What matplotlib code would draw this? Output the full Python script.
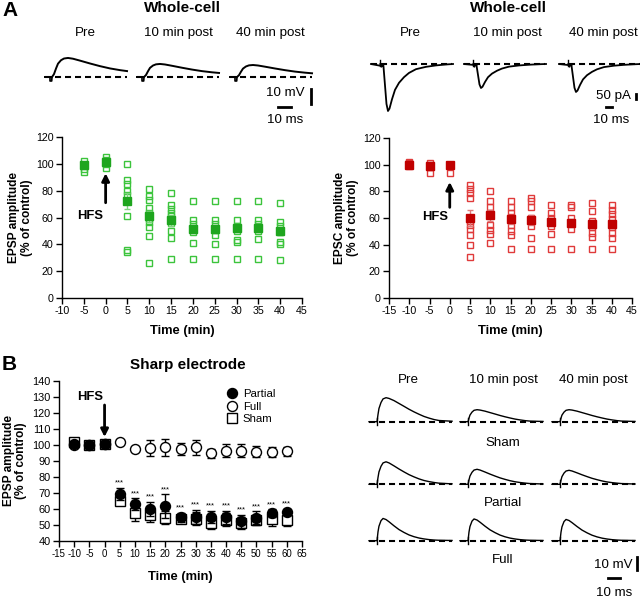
import numpy as np
import matplotlib
matplotlib.use("Agg")
import matplotlib.pyplot as plt
from matplotlib.lines import Line2D

plt.rcParams['font.family'] = ['Liberation Sans', 'DejaVu Sans']
plt.rcParams['axes.unicode_minus'] = False

# ---------------- Panel A left: whole-cell EPSP ----------------
epsp_times = [-5, 0, 5, 10, 15, 20, 25, 30, 35, 40]
epsp_cells = [
    [102, 99, 96, 94],
    [105, 103, 100, 97],
    [100, 88, 85, 80, 77, 61, 36, 34],
    [81, 76, 73, 67, 63, 59, 57, 53, 46, 26],
    [78, 69, 66, 63, 61, 56, 50, 45, 29],
    [72, 58, 55, 52, 49, 41, 29],
    [72, 58, 55, 51, 47, 40, 29],
    [72, 58, 54, 50, 43, 42, 29],
    [72, 58, 55, 50, 44, 29],
    [71, 57, 54, 49, 42, 40, 28],
]
epsp_mean = [99, 101, 72, 61, 58, 51.5, 51.5, 52, 52, 50]
epsp_sem = [1.5, 2, 6, 4, 4, 3, 3, 3, 3, 3]

# ---------------- Panel A right: whole-cell EPSC ----------------
epsc_times = [-10, -5, 0, 5, 10, 15, 20, 25, 30, 35, 40]
epsc_cells = [
    [102, 101, 100, 99],
    [101, 100, 98, 94],
    [100, 99, 94],
    [85, 82, 79, 75, 58, 55, 52, 47, 40, 31],
    [80, 73, 68, 64, 55, 51, 48, 41],
    [73, 68, 64, 61, 55, 50, 47, 37],
    [75, 73, 68, 60, 54, 45, 37],
    [70, 64, 60, 54, 48, 37],
    [70, 68, 60, 52, 37],
    [71, 65, 58, 53, 49, 46, 37],
    [70, 66, 63, 59, 53, 49, 45, 37],
]
epsc_mean = [100, 99, 99.5, 60, 62, 59, 58.5, 57, 56, 55.5, 55.5]
epsc_sem = [1, 1.5, 1, 6, 4, 3.5, 3.5, 3, 3, 3, 3]

# ---------------- Panel B: sharp electrode ----------------
sharp_times = [-10, -5, 0, 5, 10, 15, 20, 25, 30, 35, 40, 45, 50, 55, 60]
partial_mean = [100.5, 100, 100.5, 69.4, 63.1, 60, 61.9, 54.8, 55, 55, 54.8, 52.4, 54.5, 57.3, 58]
partial_sem = [1, 1, 1, 4, 3.5, 4.5, 7.3, 3, 4.5, 4, 4, 4, 4, 2.5, 2]
full_mean = [100, 100, 100.5, 102, 97.5, 97.9, 98.5, 97.5, 98.5, 94.8, 96.4, 96.5, 95.9, 95.5, 96]
full_sem = [1, 1, 1, 1, 1, 5, 5.5, 4, 4.5, 3, 4, 4, 3.5, 3, 3]
sham_mean = [101.9, 100, 100.5, 65, 57.3, 56, 54.5, 54, 54, 51.5, 53.3, 51.2, 53.3, 53.5, 53.3]
sham_sem = [1, 1, 1, 2, 4.5, 4, 4, 2.5, 4, 4, 4, 3.5, 3, 4, 4]
signif_from = 5  # *** on every post-HFS point

# ---------------- Example traces (sample points) ----------------
trace_labels = ["Pre", "10 min post", "40 min post"]
# whole-cell EPSP (ms, normalized)
epsp_t = [0, 5.4, 6.9, 8.5, 10, 12.3, 14.6, 17.7, 21.5, 26.9, 34.6, 42.3, 50, 57.7, 63.1]
epsp_v = [0, 0, 0.15, 0.45, 0.7, 0.88, 0.97, 1.0, 0.96, 0.86, 0.71, 0.57, 0.45, 0.36, 0.31]
epsp_amp_mV = [12.7, 8.7, 8.0]
# whole-cell EPSC (ms, normalized)
epsc_t = [0, 20.8, 23.3, 25.8, 28.3, 30.8, 35, 40, 46.7, 55, 63.3, 75, 91.7, 108.3, 125, 136.7]
epsc_v = [0, -0.05, -0.45, -0.85, -1.0, -0.95, -0.75, -0.55, -0.4, -0.28, -0.19, -0.11, -0.06, -0.03, -0.01, 0]
epsc_amp_pA = [470, 240, 280]
# sharp-electrode EPSPs (ms, normalized)
sharp_t = [0, 6.7, 7.5, 8.3, 10, 11.7, 14.2, 16.7, 20.8, 25, 29.2, 33.3, 37.5, 41.7, 45.8, 50, 54.2, 58.3, 69.2]
sham_v = [0, 0, 0.3, 0.55, 0.8, 0.95, 1.0, 0.97, 0.88, 0.76, 0.64, 0.52, 0.41, 0.31, 0.22, 0.15, 0.09, 0.05, 0.02]
partial_v = [0, 0, 0.3, 0.55, 0.8, 0.95, 1.0, 0.95, 0.82, 0.68, 0.55, 0.43, 0.33, 0.24, 0.17, 0.12, 0.08, 0.05, 0.02]
full_v = [0, 0, 0.4, 0.65, 0.9, 1.0, 0.95, 0.85, 0.67, 0.5, 0.37, 0.26, 0.18, 0.12, 0.08, 0.05, 0.03, 0.02, 0.01]
sham_amp_mV = [19.2, 9.6, 9.6]
partial_amp_mV = [18.0, 12.0, 11.2]
full_amp_mV = [17.8, 17.4, 17.0]
row_labels = ["Sham", "Partial", "Full"]

W, H = 640, 599
fig = plt.figure(figsize=(6.4, 5.99), dpi=100)

TICK_FS = 7.7
YLAB_FS = 8.6
XLAB_FS = 9.3
TXT_FS = 9.6


def style_axes(ax, xlim, ylim, xticks, yticks, ylabel, xfs=TICK_FS, yfs=TICK_FS):
    ax.set_xlim(*xlim)
    ax.set_ylim(*ylim)
    ax.set_xticks(xticks)
    ax.set_yticks(yticks)
    ax.spines['top'].set_visible(False)
    ax.spines['right'].set_visible(False)
    for s in ('left', 'bottom'):
        ax.spines[s].set_linewidth(1.0)
    ax.tick_params(direction='out', length=4, width=1, pad=2)
    ax.tick_params(axis='x', labelsize=xfs)
    ax.tick_params(axis='y', labelsize=yfs)
    ax.set_facecolor('none')
    ax.set_ylabel(ylabel, fontsize=YLAB_FS, fontweight='bold', linespacing=1.1)
    ax.set_xlabel('Time (min)', fontsize=XLAB_FS, fontweight='bold')
    ax.xaxis.label.set_va('top')


def px_axes(x0, x1, y_top, y_bot):
    return fig.add_axes([x0 / W, 1 - y_bot / H, (x1 - x0) / W, (y_bot - y_top) / H])


# ---- A left ----
axL = px_axes(62, 302, 137, 298)
style_axes(axL, (-10, 45), (0, 120), range(-10, 46, 5), range(0, 121, 20),
           'EPSP amplitude\n(% of control)')
g_light, g_dark = '#3cc43c', '#1ea51e'
for t, vals in zip(epsp_times, epsp_cells):
    axL.plot([t] * len(vals), vals, ls='none', marker='s', ms=4.2, mfc='none',
             mec=g_light, mew=1.0, zorder=2)
axL.errorbar(epsp_times, epsp_mean, yerr=epsp_sem, fmt='none', ecolor='#7fd47f',
             elinewidth=1, capsize=2, zorder=3)
axL.plot(epsp_times, epsp_mean, ls='none', marker='s', ms=6, mfc=g_dark, mec=g_dark, zorder=4)
axL.annotate('', xy=(0, 93), xytext=(0, 71),
             arrowprops=dict(arrowstyle='-|>', lw=2, color='black', mutation_scale=11,
                             shrinkA=0, shrinkB=0))
axL.text(-3.6, 61, 'HFS', fontsize=9.4, fontweight='bold', ha='center', va='center')
axL.yaxis.set_label_coords(-0.12, 0.5)
axL.xaxis.set_label_coords(0.5, -0.17)

# ---- A right ----
axR = px_axes(389, 632, 138, 298)
style_axes(axR, (-15, 45), (0, 120), range(-15, 46, 5), range(0, 121, 20),
           'EPSC amplitude\n(% of control)')
r_light, r_dark = '#e03a3a', '#c00000'
for t, vals in zip(epsc_times, epsc_cells):
    axR.plot([t] * len(vals), vals, ls='none', marker='s', ms=4.2, mfc='none',
             mec=r_light, mew=1.0, zorder=2)
axR.errorbar(epsc_times, epsc_mean, yerr=epsc_sem, fmt='none', ecolor='#e07a7a',
             elinewidth=1, capsize=2, zorder=3)
axR.plot(epsc_times, epsc_mean, ls='none', marker='s', ms=6, mfc=r_dark, mec=r_dark, zorder=4)
axR.annotate('', xy=(0, 87), xytext=(0, 68),
             arrowprops=dict(arrowstyle='-|>', lw=2, color='black', mutation_scale=11,
                             shrinkA=0, shrinkB=0))
axR.text(-3.6, 61, 'HFS', fontsize=9.4, fontweight='bold', ha='center', va='center')
axR.yaxis.set_label_coords(-0.125, 0.5)
axR.xaxis.set_label_coords(0.5, -0.17)

# ---- B ----
axB = px_axes(59, 302, 381, 541)
style_axes(axB, (-15, 65), (40, 140), range(-15, 66, 5), range(40, 141, 10),
           'EPSP amplitude\n(% of control)', xfs=6.9, yfs=7.9)
axB.errorbar(sharp_times, sham_mean, yerr=sham_sem, fmt='none', ecolor='black',
             elinewidth=1, capsize=3, capthick=1, zorder=2)
axB.plot(sharp_times, sham_mean, ls='none', marker='s', ms=7, mfc='white', mec='black',
         mew=1, zorder=3)
axB.errorbar(sharp_times, full_mean, yerr=full_sem, fmt='none', ecolor='black',
             elinewidth=1, capsize=3, capthick=1, zorder=4)
axB.plot(sharp_times, full_mean, ls='none', marker='o', ms=7.2, mfc='white', mec='black',
         mew=1, zorder=5)
axB.errorbar(sharp_times, partial_mean, yerr=partial_sem, fmt='none', ecolor='black',
             elinewidth=1, capsize=3, capthick=1, zorder=6)
axB.plot(sharp_times, partial_mean, ls='none', marker='o', ms=7.2, mfc='black', mec='black',
         zorder=7)
for t, m, s in zip(sharp_times, partial_mean, partial_sem):
    if t >= signif_from:
        axB.text(t, m + s + 0.8, '***', fontsize=5.5, ha='center', va='bottom')
axB.annotate('', xy=(0, 105), xytext=(0, 125),
             arrowprops=dict(arrowstyle='-|>', lw=2, color='black', mutation_scale=11,
                             shrinkA=0, shrinkB=0))
axB.text(-4.6, 130, 'HFS', fontsize=9.4, fontweight='bold', ha='center', va='center')
axB.yaxis.set_label_coords(-0.13, 0.5)
axB.xaxis.set_label_coords(0.5, -0.185)
handles = [
    Line2D([], [], ls='none', marker='o', ms=7.2, mfc='black', mec='black'),
    Line2D([], [], ls='none', marker='o', ms=7.2, mfc='white', mec='black'),
    Line2D([], [], ls='none', marker='s', ms=7, mfc='white', mec='black'),
]
axB.legend(handles, ['Partial', 'Full', 'Sham'], loc='upper left', frameon=False,
           bbox_to_anchor=(219 / W, 1 - 383 / H), bbox_transform=fig.transFigure,
           fontsize=8.2, handletextpad=0.4, labelspacing=0.25, borderpad=0, handlelength=1.2)

# ---- overlay in pixel coordinates for texts and example traces ----
ov = fig.add_axes([0, 0, 1, 1])
ov.set_xlim(0, W)
ov.set_ylim(H, 0)
ov.axis('off')
ov.patch.set_visible(False)

ov.text(2, 11, 'A', fontsize=15, fontweight='bold', ha='left', va='center')
ov.text(2, 365, 'B', fontsize=15, fontweight='bold', ha='left', va='center')
ov.text(182, 8, 'Whole-cell', fontsize=11, fontweight='bold', ha='center', va='center')
ov.text(508, 8, 'Whole-cell', fontsize=11, fontweight='bold', ha='center', va='center')
ov.text(188, 365, 'Sharp electrode', fontsize=11, fontweight='bold', ha='center', va='center')

DASH = (0, (2.9, 1.9))


def baseline(x0, y0, length, lw=1.5):
    ov.plot([x0, x0 + length], [y0, y0], color='black', lw=lw, ls=DASH)


# A left traces
for lab, xc in zip(trace_labels, [85, 178, 270]):
    ov.text(xc, 33, lab, fontsize=TXT_FS, ha='center', va='center')
for x0, amp in zip([45, 137, 230], epsp_amp_mV):
    y0 = 77
    baseline(x0, y0, 82)
    ov.plot(x0 + np.array(epsp_t) * 1.3, y0 - np.array(epsp_v) * amp * 1.5,
            color='black', lw=1.4)
    ov.plot([x0, x0 + 5, x0 + 5, x0 + 6.7, x0 + 7], [y0, y0, y0 + 4, y0 + 4, y0],
            color='black', lw=1.2)
ov.plot([311, 311], [89, 104], color='black', lw=2)
ov.plot([278, 291], [107, 107], color='black', lw=2)
ov.text(304, 93, '10 mV', fontsize=TXT_FS, ha='right', va='center')
ov.text(285, 120, '10 ms', fontsize=TXT_FS, ha='center', va='center')

# A right traces
for lab, xc in zip(trace_labels, [410, 507, 603]):
    ov.text(xc, 33, lab, fontsize=TXT_FS, ha='center', va='center')
for x0, amp in zip([371, 464, 559], epsc_amp_pA):
    y0 = 64
    baseline(x0, y0, 81)
    ov.plot(x0 + np.array(epsc_t) * 0.6, y0 - np.array(epsc_v) * amp * 0.1,
            color='black', lw=1.3)
    ov.plot([x0 + 9, x0 + 9], [y0 - 3.6, y0 + 2.4], color='black', lw=1.0)
    ov.plot([x0 + 9, x0 + 10.5, x0 + 11.5, x0 + 12.5], [y0, y0 + 3, y0 + 1, y0 + 1.5],
            color='black', lw=1.0)
ov.plot([636, 636], [94, 99], color='black', lw=2)
ov.plot([606, 612], [107, 107], color='black', lw=2)
ov.text(631, 96, '50 pA', fontsize=TXT_FS, ha='right', va='center')
ov.text(611, 120, '10 ms', fontsize=TXT_FS, ha='center', va='center')

# B traces
for lab, xc in zip(trace_labels, [408, 503, 593]):
    ov.text(xc, 380, lab, fontsize=TXT_FS, ha='center', va='center')
rows = [(sham_v, sham_amp_mV, 421.7), (partial_v, partial_amp_mV, 484.3),
        (full_v, full_amp_mV, 540.7)]
for (shape, amps, y0) in rows:
    for x0, amp in zip([369, 460, 552], amps):
        baseline(x0, y0, 83)
        ov.plot(x0 + np.array(sharp_t) * 1.2, y0 - np.array(shape) * amp * 1.25,
                color='black', lw=1.0)
        ov.plot([x0 + 7.7, x0 + 7.7], [y0 - 4, y0 + 3], color='black', lw=1.0)
for lab, yc in zip(row_labels, [443, 503, 560]):
    ov.text(503, yc, lab, fontsize=TXT_FS, ha='center', va='center')
ov.plot([637, 637], [557, 570], color='black', lw=2)
ov.plot([608, 620], [578, 578], color='black', lw=2)
ov.text(633, 565, '10 mV', fontsize=TXT_FS, ha='right', va='center')
ov.text(614, 593, '10 ms', fontsize=TXT_FS, ha='center', va='center')

fig.savefig('out.png', dpi=100)
